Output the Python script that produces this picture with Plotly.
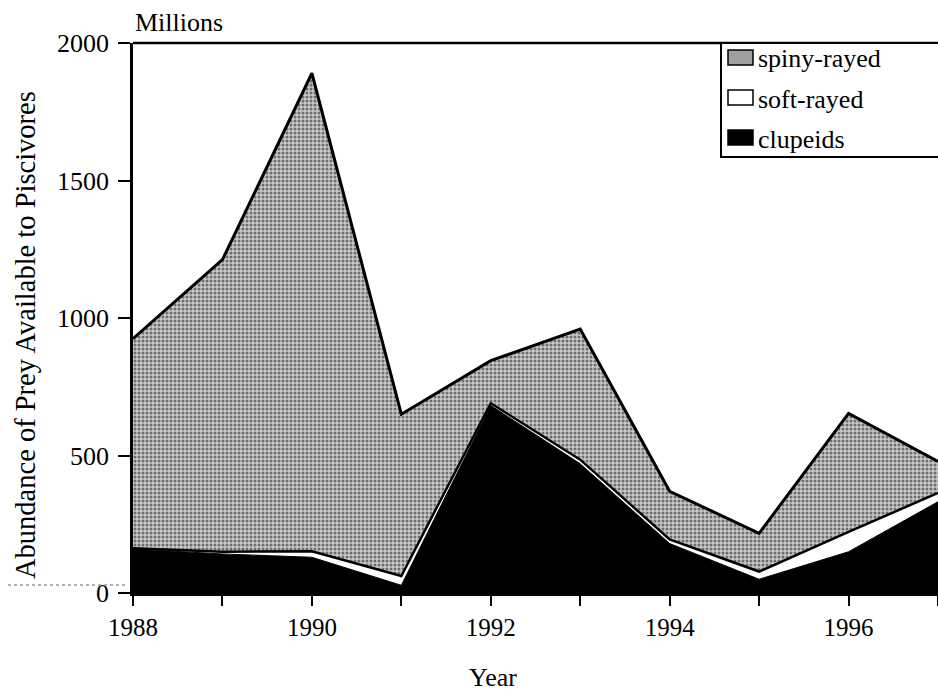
import plotly.graph_objects as go

years = [1988, 1989, 1990, 1991, 1992, 1993, 1994, 1995, 1996, 1997]
clupeids = [160, 142, 130, 28, 682, 470, 180, 50, 150, 332]
soft_rayed = [3, 8, 22, 34, 8, 15, 15, 28, 72, 32]
spiny_rayed = [762, 1062, 1738, 588, 155, 475, 175, 139, 431, 114]
x_tick_labels = ["1988", "", "1990", "", "1992", "", "1994", "", "1996", ""]
y_tick_vals = [0, 500, 1000, 1500, 2000]
legend_names = ["spiny-rayed", "soft-rayed", "clupeids"]

FONT = "Liberation Serif, Times New Roman, DejaVu Serif, serif"
W, H = 938, 694
L, R, T, B = 133, 0, 43, 101
PW, PH = W - L - R, H - T - B

SPINY_BG = "#c9c9c9"

fig = go.Figure()
fig.add_trace(go.Scatter(
    x=years, y=clupeids, name="clupeids", stackgroup="one", mode="lines",
    line=dict(color="black", width=1), fillcolor="black", showlegend=False))
fig.add_trace(go.Scatter(
    x=years, y=soft_rayed, name="soft-rayed", stackgroup="one", mode="lines",
    line=dict(color="black", width=2.5), fillcolor="white", showlegend=False))
fig.add_trace(go.Scatter(
    x=years, y=spiny_rayed, name="spiny-rayed", stackgroup="one", mode="lines",
    line=dict(color="black", width=3), fillcolor=SPINY_BG,
    fillpattern=dict(shape=".", fgcolor="#111111", bgcolor=SPINY_BG, size=4, solidity=0.45),
    showlegend=False))


def px_x(p):
    return (p - L) / PW


def px_y(p):
    return (H - B - p) / PH


# manual legend (box, swatches, labels)
leg_rows = [57, 97, 137]
swatch_fill = ["#a0a0a0", "white", "black"]
shapes = [
    dict(type="line", xref="paper", yref="paper", x0=0, x1=1, y0=1, y1=1,
         line=dict(color="black", width=2.5)),
    dict(type="line", xref="paper", yref="paper", x0=px_x(8), x1=px_x(126),
         y0=px_y(585), y1=px_y(585), line=dict(color="#999999", width=1.5, dash="dot")),
    dict(type="rect", xref="paper", yref="paper", x0=px_x(721), x1=px_x(950),
         y0=px_y(157), y1=px_y(43), fillcolor="white", line=dict(color="black", width=2)),
]
annotations = []
for name, row, fc in zip(legend_names, leg_rows, swatch_fill):
    shapes.append(dict(type="rect", xref="paper", yref="paper",
                       x0=px_x(728), x1=px_x(753), y0=px_y(row + 8), y1=px_y(row - 7),
                       fillcolor=fc, line=dict(color="black", width=1.5)))
    annotations.append(dict(text=name, xref="paper", yref="paper", x=px_x(756), y=px_y(row + 2),
                            xanchor="left", yanchor="middle", showarrow=False,
                            font=dict(family=FONT, size=26, color="black")))

annotations += [
    dict(text="Millions", xref="paper", yref="paper", x=0, y=px_y(22),
         xanchor="left", yanchor="middle", showarrow=False,
         font=dict(family=FONT, size=26, color="black")),
    dict(text="Year", xref="paper", yref="paper", x=px_x(493), y=px_y(677),
         xanchor="center", yanchor="middle", showarrow=False,
         font=dict(family=FONT, size=26, color="black")),
    dict(text="Abundance of Prey Available to Piscivores", xref="paper", yref="paper",
         x=px_x(25), y=px_y(335), textangle=-90,
         xanchor="center", yanchor="middle", showarrow=False,
         font=dict(family=FONT, size=28.5, color="black")),
]

fig.update_layout(
    width=W, height=H,
    margin=dict(l=L, r=R, t=T, b=B),
    paper_bgcolor="white", plot_bgcolor="white",
    font=dict(family=FONT, size=26, color="black"),
    showlegend=False,
    xaxis=dict(
        range=[1988, 1997], tickmode="array", tickvals=years, ticktext=x_tick_labels,
        ticks="outside", ticklen=10, tickwidth=2, tickcolor="black",
        showline=True, linecolor="black", linewidth=2.5,
        showgrid=False, zeroline=False,
        tickfont=dict(family=FONT, size=25, color="black")),
    yaxis=dict(
        range=[0, 2000], tickmode="array", tickvals=y_tick_vals,
        ticks="outside", ticklen=12, tickwidth=2, tickcolor="black",
        showline=True, linecolor="black", linewidth=2.5,
        showgrid=False, zeroline=False, ticklabelstandoff=4,
        tickfont=dict(family=FONT, size=26, color="black")),
    shapes=shapes,
    annotations=annotations,
)

fig.write_html("out.html", config={"displayModeBar": False},
               post_script="document.body.style.margin='0px';document.body.style.padding='0px';")
